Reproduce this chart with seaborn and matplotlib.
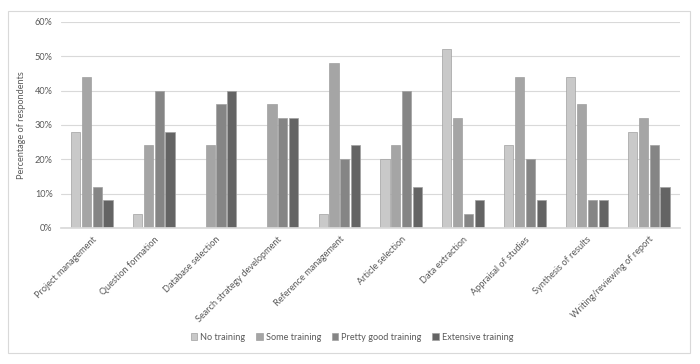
import matplotlib
matplotlib.use("Agg")
import matplotlib.pyplot as plt
import seaborn as sns
import pandas as pd
from matplotlib.patches import Rectangle
from matplotlib.ticker import PercentFormatter

sns.set_theme(style="white")
plt.rcParams['font.family'] = ['Lato', 'DejaVu Sans']

categories = ["Project management", "Question formation", "Database selection",
              "Search strategy development", "Reference management",
              "Article selection", "Data extraction", "Appraisal of studies",
              "Synthesis of results", "Writing/reviewing of report"]
levels = ["No training", "Some training", "Pretty good training", "Extensive training"]
no_training = [28, 4, 0, 0, 4, 20, 52, 24, 44, 28]
some_training = [44, 24, 24, 36, 48, 24, 32, 44, 36, 32]
pretty_good = [12, 40, 36, 32, 20, 40, 4, 20, 8, 24]
extensive = [8, 28, 40, 32, 24, 12, 8, 8, 8, 12]

COLORS = ["#c9c9c9", "#a5a5a5", "#858585", "#646464"]
TEXT = "#595959"
FS = 6.6

rows = []
for lvl, vals in zip(levels, [no_training, some_training, pretty_good, extensive]):
    for cat, v in zip(categories, vals):
        rows.append({"task": cat, "level": lvl, "pct": v})
df = pd.DataFrame(rows)

fig = plt.figure(figsize=(7, 3.64), dpi=100)
ax = fig.add_axes([0.087, 0.374, 0.884, 0.566])

sns.barplot(data=df, x="task", y="pct", hue="level", hue_order=levels,
            palette=COLORS, width=0.7, gap=0.15, ax=ax,
            edgecolor="#a0a0a0", linewidth=0.5)

ax.set_ylim(0, 60)
ax.set_yticks(range(0, 61, 10))
ax.yaxis.set_major_formatter(PercentFormatter(decimals=0))
ax.yaxis.grid(True, color="#d9d9d9", linewidth=0.8)
ax.set_axisbelow(True)
for s in ["left", "right", "top"]:
    ax.spines[s].set_visible(False)
ax.spines["bottom"].set_color("#d9d9d9")
ax.tick_params(axis="y", length=0, labelsize=FS, colors=TEXT, pad=6)
ax.tick_params(axis="x", length=0, labelsize=FS, colors=TEXT, pad=5)
ax.set_xticks(range(len(categories)))
ax.set_xticklabels(categories, rotation=45, ha="right", rotation_mode="anchor")
ax.set_xlabel("")
ax.set_ylabel("Percentage of respondents", fontsize=FS, color=TEXT, labelpad=6)

leg = ax.legend(loc="center", bbox_to_anchor=(0.503, 0.074), bbox_transform=fig.transFigure,
                ncol=4, frameon=False, fontsize=FS, handlelength=0.7, handleheight=0.7,
                handletextpad=0.3, columnspacing=1.2, labelcolor=TEXT)

fig.patches.append(Rectangle((8 / 700, 1 - 353 / 364), 682 / 700, 342 / 364,
                             transform=fig.transFigure, fill=False,
                             edgecolor="#d9d9d9", linewidth=0.8))

fig.savefig("out.png", dpi=100, facecolor="white")
